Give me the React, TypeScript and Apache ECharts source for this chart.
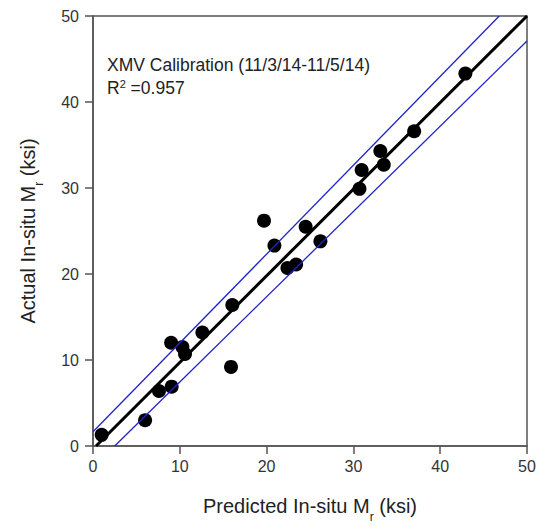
import React, { useEffect, useRef } from "react";
import * as echarts from "echarts";

const predicted = [1.0, 6.0, 7.6, 9.06, 9.0, 10.3, 10.6, 12.6, 15.9, 16.05, 19.7, 20.9, 22.4, 23.4, 24.5, 26.2, 30.7, 30.95, 33.5, 33.1, 37.0, 42.9];
const actual = [1.3, 3.0, 6.4, 6.9, 12.0, 11.5, 10.7, 13.2, 9.2, 16.4, 26.2, 23.3, 20.7, 21.1, 25.5, 23.8, 29.9, 32.1, 32.7, 34.3, 36.6, 43.3];
const fitLine = [[0.35, 0], [50, 50]];
const upperBand = [[0, 1.65], [46.8, 50]];
const lowerBand = [[2.5, 0], [50, 47.1]];
const ticks = [0, 10, 20, 30, 40, 50];
const titleText = "XMV Calibration (11/3/14-11/5/14)";
const r2Text = "0.957";

export default function App() {
  const ref = useRef<HTMLDivElement>(null);
  useEffect(() => {
    if (!ref.current) return;
    const chart = echarts.init(ref.current, undefined, { renderer: "svg" });
    const font = "Arial, 'Liberation Sans', sans-serif";
    const axisCommon = {
      min: ticks[0],
      max: ticks[ticks.length - 1],
      interval: 10,
      splitLine: { show: false },
      axisLine: { show: true, lineStyle: { color: "#555", width: 1.5 } },
      axisTick: { show: true, inside: false, length: 8, lineStyle: { color: "#555", width: 1.5 } },
      axisLabel: { color: "#333", fontSize: 16, fontFamily: font },
      nameLocation: "middle" as const,
      nameTextStyle: {
        color: "#222",
        fontSize: 20,
        fontFamily: font,
        rich: {
          n: { fontSize: 20, fontFamily: font, color: "#222" },
          s: { fontSize: 12, fontFamily: font, color: "#222", verticalAlign: "bottom" as const, padding: [0, 0, -7, 0] },
        },
      },
    };
    chart.setOption({
      animation: false,
      grid: {
        left: 85,
        right: 31,
        top: 6,
        bottom: 88,
        show: true,
        borderColor: "#555",
        borderWidth: 1.5,
        backgroundColor: "#fff",
      },
      xAxis: {
        ...axisCommon,
        type: "value",
        name: "{n|Predicted In-situ M}{s|r}{n| (ksi)}",
        nameGap: 50,
        axisLabel: { ...axisCommon.axisLabel, margin: 12 },
      },
      yAxis: {
        ...axisCommon,
        type: "value",
        name: "{n|Actual In-situ M}{s|r}{n| (ksi)}",
        nameGap: 55,
        axisLabel: { ...axisCommon.axisLabel, margin: 14 },
      },
      graphic: [
        {
          type: "text",
          left: 99,
          top: 48,
          style: { text: titleText, fontSize: 17.5, fontFamily: font, fill: "#222" },
        },
        {
          type: "text",
          left: 99,
          top: 70,
          style: {
            text: "{a|R}{b|2}{a| =" + r2Text + "}",
            rich: {
              a: { fontSize: 17.5, fontFamily: font, fill: "#222" },
              b: { fontSize: 11, fontFamily: font, fill: "#222", verticalAlign: "top", padding: [0, 0, 8, 0] },
            },
          },
        },
      ],
      series: [
        {
          type: "scatter",
          data: predicted.map((x, i) => [x, actual[i]]),
          symbol: "circle",
          symbolSize: 14,
          itemStyle: { color: "#000", opacity: 1 },
          z: 1,
        },
        {
          type: "line",
          data: fitLine,
          symbol: "none",
          lineStyle: { color: "#000", width: 3 },
          z: 3,
        },
        {
          type: "line",
          data: upperBand,
          symbol: "none",
          lineStyle: { color: "#2222cc", width: 1.3 },
          z: 4,
        },
        {
          type: "line",
          data: lowerBand,
          symbol: "none",
          lineStyle: { color: "#2222cc", width: 1.3 },
          z: 4,
        },
      ],
    });
    return () => chart.dispose();
  }, []);
  return <div ref={ref} style={{ width: 550, height: 526 }} />;
}
